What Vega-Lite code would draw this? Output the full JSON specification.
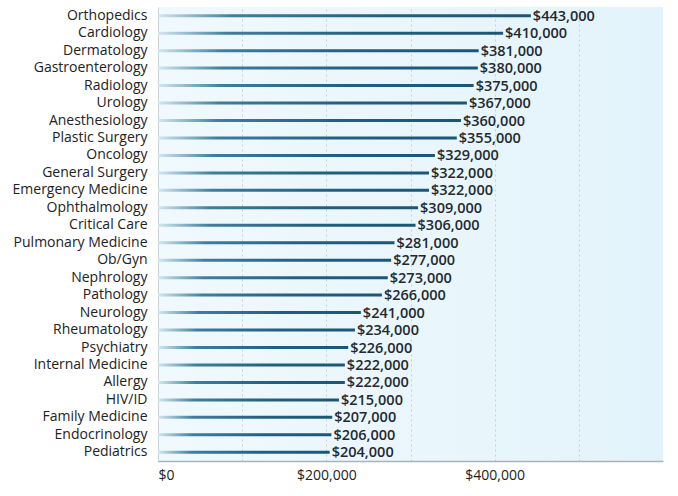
{
  "$schema": "https://vega.github.io/schema/vega-lite/v6.json",
  "width": 505,
  "height": 454,
  "autosize": {"type": "none"},
  "padding": {"left": 158, "top": 7, "right": 15, "bottom": 35},
  "background": "white",
  "view": {"fill": {"gradient": "linear", "x1": 0, "x2": 1, "y1": 0, "y2": 0, "stops": [{"offset": 0, "color": "#f0f9fd"}, {"offset": 1, "color": "#e3f3fb"}]}, "stroke": null},
  "data": {"values": [
    {"specialty": "Orthopedics", "salary": 443000},
    {"specialty": "Cardiology", "salary": 410000},
    {"specialty": "Dermatology", "salary": 381000},
    {"specialty": "Gastroenterology", "salary": 380000},
    {"specialty": "Radiology", "salary": 375000},
    {"specialty": "Urology", "salary": 367000},
    {"specialty": "Anesthesiology", "salary": 360000},
    {"specialty": "Plastic Surgery", "salary": 355000},
    {"specialty": "Oncology", "salary": 329000},
    {"specialty": "General Surgery", "salary": 322000},
    {"specialty": "Emergency Medicine", "salary": 322000},
    {"specialty": "Ophthalmology", "salary": 309000},
    {"specialty": "Critical Care", "salary": 306000},
    {"specialty": "Pulmonary Medicine", "salary": 281000},
    {"specialty": "Ob/Gyn", "salary": 277000},
    {"specialty": "Nephrology", "salary": 273000},
    {"specialty": "Pathology", "salary": 266000},
    {"specialty": "Neurology", "salary": 241000},
    {"specialty": "Rheumatology", "salary": 234000},
    {"specialty": "Psychiatry", "salary": 226000},
    {"specialty": "Internal Medicine", "salary": 222000},
    {"specialty": "Allergy", "salary": 222000},
    {"specialty": "HIV/ID", "salary": 215000},
    {"specialty": "Family Medicine", "salary": 207000},
    {"specialty": "Endocrinology", "salary": 206000},
    {"specialty": "Pediatrics", "salary": 204000}
  ]},
  "encoding": {
    "y": {"field": "specialty", "type": "nominal", "sort": null, "title": null,
      "scale": {"paddingInner": 0, "paddingOuter": 0},
      "axis": {"ticks": false, "domain": true, "domainColor": "#c9d3d8", "labelFont": "Open Sans", "labelFontSize": 14, "labelColor": "#222222", "labelPadding": 11}},
    "x": {"field": "salary", "type": "quantitative", "title": null,
      "scale": {"domain": [0, 600000], "nice": false},
      "axis": {"values": [0, 100000, 200000, 300000, 400000, 500000], "labelExpr": "datum.value % 200000 == 0 ? '$' + format(datum.value, ',') : ''", "ticks": false, "domainColor": "#a9b3b8", "domainWidth": 1.5, "grid": true, "gridDash": [2, 3], "gridColor": "#c4d2d8", "labelFont": "Open Sans", "labelFontSize": 14, "labelColor": "#222222", "labelPadding": 7}}
  },
  "layer": [
    {"mark": {"type": "bar", "height": 3, "color": {"gradient": "linear", "x1": 0, "x2": 1, "y1": 0, "y2": 0, "stops": [{"offset": 0, "color": "#d3e7f0"}, {"offset": 0.2, "color": "#3f7e9c"}, {"offset": 0.6, "color": "#245f7f"}, {"offset": 1, "color": "#1d5576"}]}}},
    {"mark": {"type": "text", "align": "left", "baseline": "middle", "dx": 2, "dy": 1, "font": "Open Sans", "fontSize": 14.5, "fontWeight": 600, "color": "#1f2a30"},
     "encoding": {"text": {"field": "salary", "type": "quantitative", "format": "$,.0f"}}}
  ]
}
